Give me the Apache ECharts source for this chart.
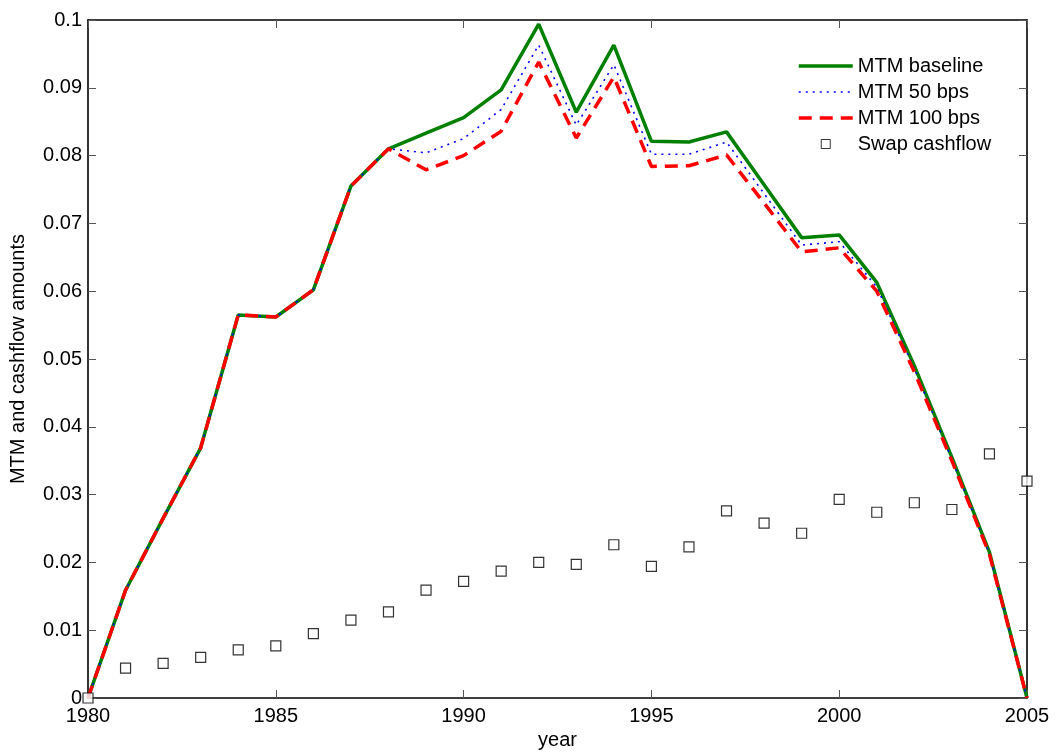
<!DOCTYPE html>
<html>
<head>
<meta charset="utf-8">
<script src="https://cdn.jsdelivr.net/npm/echarts@6/dist/echarts.min.js"></script>
<style>
html,body{margin:0;padding:0;background:#fff;}
#main{width:1058px;height:752px;}
</style>
</head>
<body>
<div id="main"></div>
<script>
// years and series
var years = [1980,1981,1982,1983,1984,1985,1986,1987,1988,1989,1990,1991,1992,
             1993,1994,1995,1996,1997,1998,1999,2000,2001,2002,2003,2004,2005];
var mtmBaseline = [0,0.0159,0.0265,0.0369,0.0565,0.0562,0.0602,0.0755,0.0810,0.0833,0.0856,0.0897,0.0994,
                   0.0864,0.0963,0.0821,0.0820,0.0835,0.0757,0.0679,0.0683,0.0613,0.0490,0.0355,0.0215,0];
var mtm50 = [0,0.0159,0.0265,0.0369,0.0565,0.0562,0.0602,0.0755,0.0810,0.0804,0.0825,0.0868,0.0963,
             0.0845,0.0934,0.0802,0.0802,0.0820,0.0744,0.0668,0.0673,0.0606,0.0486,0.0352,0.0213,0];
var mtm100 = [0,0.0159,0.0265,0.0369,0.0565,0.0562,0.0602,0.0755,0.0810,0.0779,0.0800,0.0836,0.0938,
              0.0826,0.0916,0.0784,0.0785,0.0801,0.0730,0.0658,0.0664,0.0600,0.0481,0.0350,0.0212,0];
var swapCashflow = [0,0.0044,0.0051,0.0060,0.0071,0.0077,0.0095,0.0115,0.0127,0.0159,0.0172,0.0187,0.0200,
                    0.0197,0.0226,0.0194,0.0223,0.0276,0.0258,0.0243,0.0293,0.0274,0.0288,0.0278,0.0360,0.0320];
var xTicks = [1980, 2005, 5];
var yTicks = [0, 0.1, 0.01];

function pairs(vals){
    var out = [];
    for (var i = 0; i < years.length; i++) {
        out.push([years[i], vals[i]]);
    }
    return out;
}

var myChart = echarts.init(document.getElementById('main'));
var font = 'Liberation Sans, Arial, sans-serif';
var tickStyle = { color: '#555', width: 1 };

myChart.setOption({
    animation: false,
    backgroundColor: '#fff',
    grid: { left: 88, right: 31, top: 20, bottom: 54, containLabel: false, outerBoundsMode: 'none' },
    legend: {
        orient: 'vertical',
        left: 792,
        top: 51,
        itemWidth: 54,
        itemHeight: 9,
        itemGap: 6,
        textStyle: { fontFamily: font, fontSize: 20, color: '#000' },
        data: [
            { name: 'MTM baseline', itemStyle: { opacity: 0 }, lineStyle: { width: 3.5 } },
            { name: 'MTM 50 bps', itemStyle: { opacity: 0 }, lineStyle: { width: 1.5 } },
            { name: 'MTM 100 bps', itemStyle: { opacity: 0 }, lineStyle: { width: 3.5 } },
            { name: 'Swap cashflow', icon: 'path://M0,0L10,0L10,10L0,10Z', itemStyle: { borderWidth: 1 } }
        ]
    },
    xAxis: [{
        type: 'value',
        min: xTicks[0], max: xTicks[1], interval: xTicks[2],
        name: 'year',
        nameLocation: 'middle',
        nameGap: 31,
        nameTextStyle: { fontFamily: font, fontSize: 20, color: '#000' },
        axisLine: { onZero: false, lineStyle: { color: '#000', width: 1.6 } },
        axisTick: { inside: true, length: 8, lineStyle: tickStyle },
        axisLabel: {
            fontFamily: font, fontSize: 20, color: '#000', margin: 8,
            formatter: function (v) { return String(v); }
        },
        splitLine: { show: false }
    }, {
        type: 'value', position: 'top',
        min: xTicks[0], max: xTicks[1], interval: xTicks[2],
        axisLine: { onZero: false, lineStyle: { color: '#000', width: 1.6 } },
        axisTick: { inside: true, length: 8, lineStyle: tickStyle },
        axisLabel: { show: false },
        splitLine: { show: false }
    }],
    yAxis: [{
        type: 'value',
        min: yTicks[0], max: yTicks[1], interval: yTicks[2],
        name: 'MTM and cashflow amounts',
        nameLocation: 'middle',
        nameGap: 60,
        nameTextStyle: { fontFamily: font, fontSize: 20, color: '#000' },
        axisLine: { show: true, onZero: false, lineStyle: { color: '#000', width: 1.6 } },
        axisTick: { show: true, inside: true, length: 8, lineStyle: tickStyle },
        axisLabel: { fontFamily: font, fontSize: 20, color: '#000', margin: 6 },
        splitLine: { show: false }
    }, {
        type: 'value', position: 'right',
        min: yTicks[0], max: yTicks[1], interval: yTicks[2],
        axisLine: { show: true, onZero: false, lineStyle: { color: '#000', width: 1.6 } },
        axisTick: { show: true, inside: true, length: 8, lineStyle: tickStyle },
        axisLabel: { show: false },
        splitLine: { show: false }
    }],
    series: [
        {
            name: 'MTM baseline', type: 'line', symbol: 'none',
            data: pairs(mtmBaseline),
            itemStyle: { color: '#008000' },
            lineStyle: { color: '#008000', width: 3.5 },
            z: 2
        },
        {
            name: 'MTM 50 bps', type: 'line', symbol: 'none',
            data: pairs(mtm50),
            itemStyle: { color: '#0000ff' },
            lineStyle: { color: '#0000ff', width: 1.6, type: [2, 5] },
            z: 3
        },
        {
            name: 'MTM 100 bps', type: 'line', symbol: 'none',
            data: pairs(mtm100),
            itemStyle: { color: '#ff0000' },
            lineStyle: { color: '#ff0000', width: 3.5, type: [13, 8] },
            z: 4
        },
        {
            name: 'Swap cashflow', type: 'scatter',
            symbol: 'rect', symbolSize: 10,
            data: pairs(swapCashflow),
            itemStyle: { color: '#fff', borderColor: '#000', borderWidth: 1.2 },
            z: 5
        }
    ]
});
</script>
</body>
</html>
